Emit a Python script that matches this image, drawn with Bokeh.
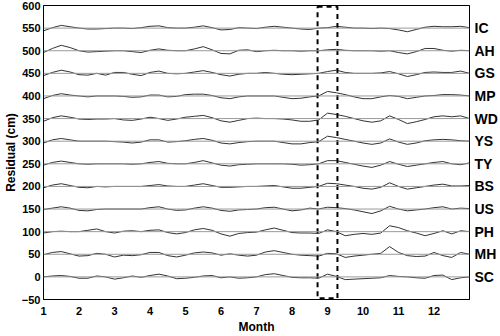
from bokeh.plotting import figure
from bokeh.models import Range1d, FixedTicker, LinearAxis, Span, ColumnDataSource
from bokeh.embed import file_html
from bokeh.resources import INLINE

# ---- data ----
months = [1, 1.25, 1.5, 1.75, 2, 2.25, 2.5, 2.75, 3, 3.25, 3.5, 3.75, 4, 4.25, 4.5, 4.75,
          5, 5.25, 5.5, 5.75, 6, 6.25, 6.5, 6.75, 7, 7.25, 7.5, 7.75, 8, 8.25, 8.5, 8.75,
          9, 9.25, 9.5, 9.75, 10, 10.25, 10.5, 10.75, 11, 11.25, 11.5, 11.75, 12, 12.25,
          12.5, 12.75, 13]
month_ticks = [1, 2, 3, 4, 5, 6, 7, 8, 9, 10, 11, 12]
y_ticks = [-50, 0, 50, 100, 150, 200, 250, 300, 350, 400, 450, 500, 550, 600]

stations = ["IC", "AH", "GS", "MP", "WD", "YS", "TY", "BS", "US", "PH", "MH", "SC"]
offsets = [550, 500, 450, 400, 350, 300, 250, 200, 150, 100, 50, 0]

ic = [-6, 1, 6, 3, 0, -2, -2, -1, 0, 0, -1, 1, 4, 5, 1, 0, 0, 2, 5, 1, -4, -3, 1, 0, -1,
      2, 4, 2, 0, -2, -3, 0, 1, 4, 2, 0, 0, -1, 0, -1, -4, -8, -3, 2, 4, 3, 3, 4, 1]
ah = [-4, 5, 12, 7, 0, -3, -2, -1, 0, 0, -2, -4, 1, 4, 1, 0, 0, 4, 9, 2, -6, -7, 1, 2, -2,
      0, 1, 0, 0, -1, 0, 0, 2, 3, 1, 0, 0, 0, -1, 0, -4, -7, -2, 5, 5, 1, -1, 1, 0]
gs = [-5, 2, 7, 3, -3, -4, 0, -4, 2, 2, -2, -5, 2, 5, 0, -1, 0, 3, 6, 2, -3, -6, -2, 0, 0,
      2, 0, -2, -3, -2, -1, 0, 4, 7, 2, 0, 0, 0, 1, 4, -1, -7, -3, 2, 3, 2, 2, 5, 0]
mp = [-6, 1, 5, 2, 0, -2, 0, 0, 0, -1, -3, -2, 2, 2, -2, -1, 3, 4, 4, 1, -4, -6, -2, 0, 0,
      0, 0, -3, -6, -5, -2, 0, 10, 7, 3, -2, -6, -6, -2, 1, -1, -6, -3, 0, 1, 3, 3, 2, 0]
wd = [-6, 2, 6, 3, -1, -2, -1, -1, 0, -3, -4, -1, 3, 0, -4, -1, 3, 5, 7, 2, -5, -8, -4, 0, 1,
      0, 0, -1, -3, -6, -6, -3, 12, 9, 5, 0, -5, -8, -5, 6, -2, -11, -7, -2, 4, 6, 4, 6, 0]
ys = [-4, 3, 6, 3, 0, 0, 0, 0, -1, -2, -4, -2, 3, 3, -2, -1, 1, 4, 6, 2, -4, -6, -3, -1, 0,
      0, 0, -3, -6, -6, -3, -1, 11, 8, 4, 0, -4, -7, -4, 5, -2, -7, -4, 1, 3, 4, 3, 1, 0]
ty = [-3, 3, 6, 3, 0, -1, 0, 0, 0, 0, -1, 0, 3, 5, 1, 0, 0, 3, 7, 2, -3, -5, -2, -1, 0,
      0, 0, 0, -1, -3, -2, 0, 7, 7, 3, -1, -5, -8, -3, 5, -1, -6, -3, 0, 3, 5, 0, -2, 2]
bs = [-3, 3, 6, 2, -2, -3, 0, -1, 0, 0, 0, 0, 2, 4, 1, 0, 0, 3, 6, 2, -2, -2, -1, 0, 0,
      1, 2, -1, -4, -4, -2, 0, 7, 6, 3, 0, -4, -6, -2, 8, 0, -6, -3, 0, 3, 5, 1, 1, 2]
us = [-1, 2, 5, 2, -3, -4, -1, 0, 0, 0, 0, 0, 3, 5, 0, -3, -2, 2, 5, 2, -3, -5, -2, -1, 0,
      3, 4, 0, -4, -2, 2, 0, 4, 3, 1, -2, -6, -10, -4, 6, 0, -4, -2, 0, 3, 5, 0, 2, 1]
ph = [-3, 0, 1, 0, 0, 3, 6, 0, -3, 1, 2, 0, 3, 4, -2, -5, -2, 4, 7, 3, -5, -10, -4, -2, -1,
      4, 8, 3, -2, -3, -3, -4, 4, 0, -9, -6, -4, -6, -3, 13, 9, 2, -3, -9, -4, 2, -5, 2, 0]
mh = [-1, 4, 6, 1, -4, -3, 2, 0, -6, -2, -3, -1, 4, 4, -3, -6, -2, 3, 5, 3, -2, 1, -2, -4, -2,
      5, 8, 4, 0, -2, -3, -4, 2, 1, -7, -4, -2, 0, 2, 17, 4, -3, -5, -4, 4, -3, -7, 4, 0]
sc = [0, 2, 3, 1, -3, -3, 2, 0, -5, -2, 2, -1, 3, 6, 2, -4, -3, -1, 2, 3, -2, 0, -3, -2, 0,
      5, 7, 3, -1, -2, -2, -3, 6, 1, -6, -5, -4, -3, -2, 3, 1, 0, -2, -3, 3, 4, -6, -2, 0]

residuals = [ic, ah, gs, mp, wd, ys, ty, bs, us, ph, mh, sc]

# highlighted window (month 9)
box_left, box_right, box_bottom, box_top = 8.72, 9.28, -47, 597

FONT = "Liberation Sans"

p = figure(width=500, height=336, output_backend="svg", toolbar_location=None,
           x_range=Range1d(1, 13), y_range=Range1d(-50, 600),
           min_border_left=41, min_border_right=28, min_border_top=5, min_border_bottom=31)
p.grid.visible = False
p.outline_line_color = "black"
p.outline_line_width = 1
p.background_fill_color = "white"
p.border_fill_color = "white"

for name, off, res in zip(stations, offsets, residuals):
    p.add_layout(Span(location=off, dimension="width", line_color="#9a9a9a", line_width=1))
    src = ColumnDataSource(dict(x=months, y=[off + v for v in res]))
    p.line("x", "y", source=src, line_color="#333333", line_width=1)

p.quad(left=[box_left], right=[box_right], bottom=[box_bottom], top=[box_top],
       fill_color=None, line_color="black", line_width=2, line_dash="5 4")

for ax in (p.xaxis[0], p.yaxis[0]):
    ax.major_tick_out = 0
    ax.major_tick_in = 0
    ax.minor_tick_out = 0
    ax.minor_tick_in = 0
    ax.axis_line_color = "black"
    ax.major_label_text_font = FONT
    ax.major_label_text_font_style = "bold"
    ax.major_label_text_font_size = "11px"
    ax.major_label_text_color = "black"
    ax.axis_label_text_font = FONT
    ax.axis_label_text_font_style = "bold"
    ax.axis_label_text_font_size = "12px"
    ax.axis_label_text_color = "black"

p.xaxis.ticker = FixedTicker(ticks=month_ticks)
p.yaxis.ticker = FixedTicker(ticks=y_ticks)
p.xaxis.axis_label = "Month"
p.yaxis.axis_label = "Residual (cm)"
p.xaxis.major_label_standoff = 7
p.xaxis.axis_label_standoff = 2
p.yaxis.major_label_standoff = 3
p.yaxis.axis_label_standoff = 1

right = LinearAxis(ticker=FixedTicker(ticks=offsets),
                   major_label_overrides={o: s for o, s in zip(offsets, stations)})
right.major_tick_out = 0
right.major_tick_in = 0
right.minor_tick_out = 0
right.minor_tick_in = 0
right.axis_line_color = "black"
right.major_label_text_font = FONT
right.major_label_text_font_style = "bold"
right.major_label_text_font_size = "14px"
right.major_label_text_color = "black"
right.major_label_standoff = 5
p.add_layout(right, "right")

open("out.html", "w").write(file_html(p, INLINE))
